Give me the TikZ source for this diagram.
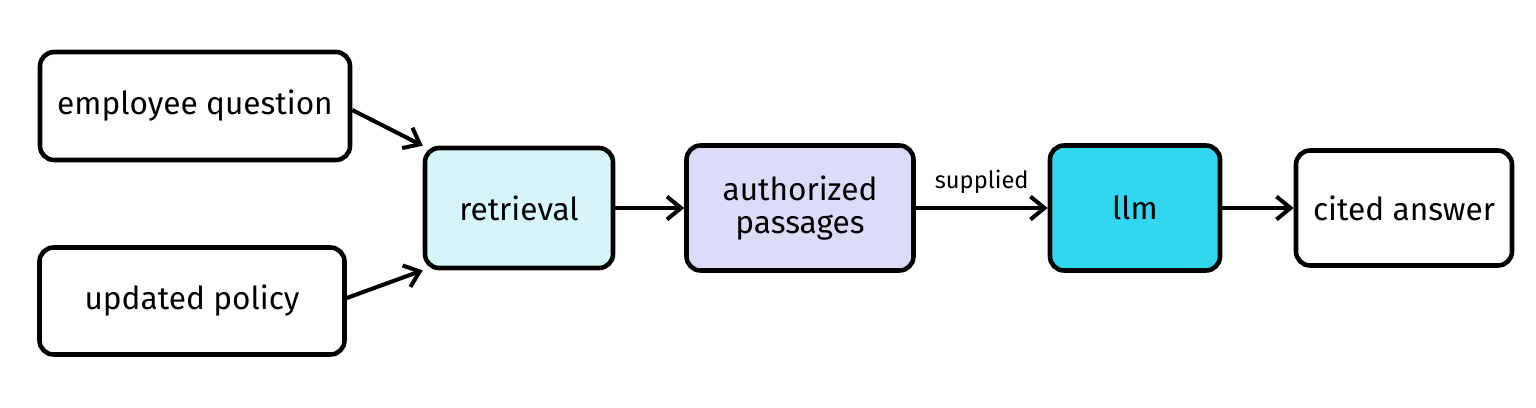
\documentclass[tikz,border=0pt]{standalone}
\usepackage{fontspec}
\setmainfont{Fira Sans}
\usetikzlibrary{arrows.meta}
\definecolor{retc}{HTML}{D6F6FC}
\definecolor{pasc}{HTML}{DCDCF8}
\definecolor{llmc}{HTML}{33D6F0}
\tikzset{
  box/.style={draw=black, line width=2.6pt, rounded corners=8pt, align=center, font=\fontsize{18}{20}\selectfont, inner sep=0pt},
  conn/.style={line width=2.3pt, -{Straight Barb[length=8pt,width=13pt,line width=2.3pt]}},
}
\begin{document}
\begin{tikzpicture}[x=0.02cm,y=-0.02cm]
\useasboundingbox[fill=white] (0,0) rectangle (1536,407);
\node[box, minimum width=310*0.02cm, minimum height=108*0.02cm] (eq) at (195,106) {employee question};
\node[box, minimum width=305*0.02cm, minimum height=107*0.02cm] (up) at (192,301) {updated policy};
\node[box, fill=retc, minimum width=188*0.02cm, minimum height=120*0.02cm] (ret) at (519,208) {retrieval};
\node[box, fill=pasc, minimum width=227*0.02cm, minimum height=125*0.02cm] (pas) at (800,208) {authorized\\[-1pt]passages};
\node[box, fill=llmc, minimum width=170*0.02cm, minimum height=125*0.02cm] (llm) at (1135,208) {llm};
\node[box, minimum width=216*0.02cm, minimum height=115*0.02cm] (ans) at (1404,208) {cited answer};
\draw[conn] (eq.east) ++(0,4) -- (ret.north west);
\draw[conn] (up.east) ++(0,-3) -- (ret.south west);
\draw[conn] (ret) -- (pas);
\draw[conn] (pas) -- node[above=4pt, font=\fontsize{13.5}{15}\selectfont] (sup) {supplied} (llm);
\draw[conn] (llm) -- (ans);
\end{tikzpicture}
\end{document}
